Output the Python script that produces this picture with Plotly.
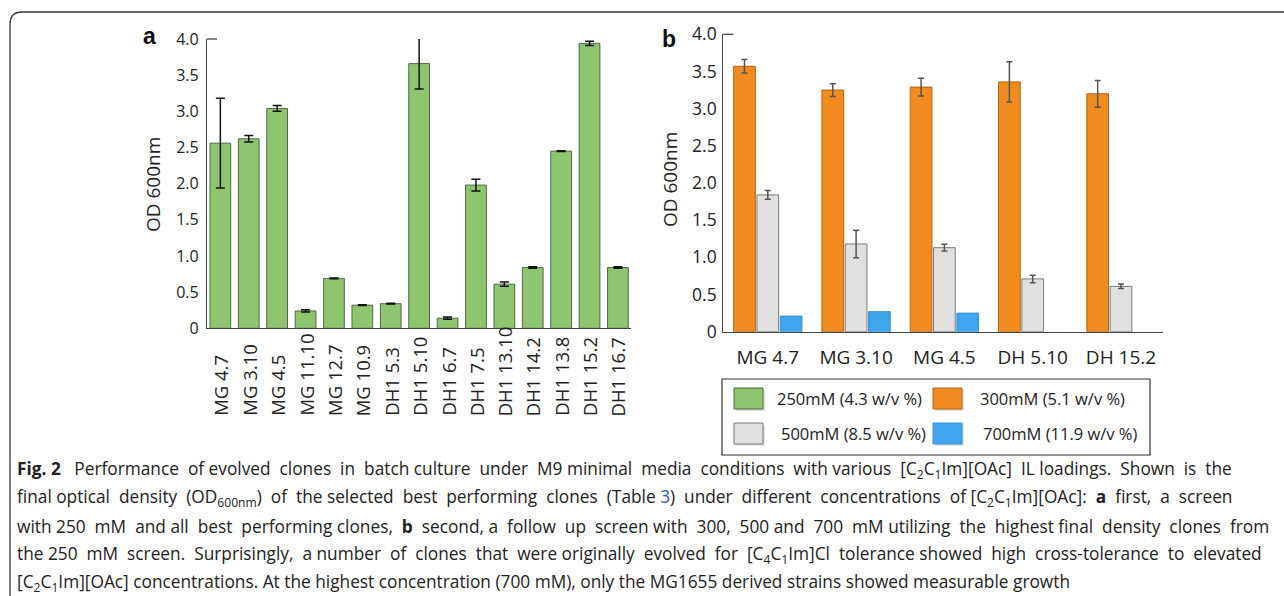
import re
import plotly.graph_objects as go

W, H = 1284, 596

# ---------------- data ----------------
clones_a = ["MG 4.7", "MG 3.10", "MG 4.5", "MG 11.10", "MG 12.7", "MG 10.9", "DH1 5.3",
            "DH1 5.10", "DH1 6.7", "DH1 7.5", "DH1 13.10", "DH1 14.2", "DH1 13.8",
            "DH1 15.2", "DH1 16.7"]
od_250 = [2.56, 2.62, 3.04, 0.24, 0.69, 0.32, 0.34, 3.66, 0.14, 1.98, 0.61, 0.84, 2.45, 3.94, 0.84]
err_250 = [0.62, 0.045, 0.04, 0.015, 0.005, 0.005, 0.005, 0.35, 0.015, 0.08, 0.03, 0.01, 0.005, 0.03, 0.01]

clones_b = ["MG 4.7", "MG 3.10", "MG 4.5", "DH 5.10", "DH 15.2"]
od_300 = [3.57, 3.25, 3.29, 3.36, 3.20]
err_300 = [0.09, 0.085, 0.12, 0.27, 0.18]
od_500 = [1.84, 1.18, 1.13, 0.71, 0.61]
err_500 = [0.06, 0.185, 0.045, 0.05, 0.03]
od_700 = [0.21, 0.27, 0.25, None, None]

yticks = [0, 0.5, 1.0, 1.5, 2.0, 2.5, 3.0, 3.5, 4.0]
ytick_text = ["0", "0.5", "1.0", "1.5", "2.0", "2.5", "3.0", "3.5", "4.0"]

legend_labels = ["250mM (4.3 w/v %)", "300mM (5.1 w/v %)", "500mM (8.5 w/v %)", "700mM (11.9 w/v %)"]

GREEN = "#8dc66f"
ORANGE = "#f28c1e"
GREY = "#e0e0e0"
BLUE = "#3fa5ee"

FONT = "Open Sans"
TXT = "#222222"


def px(x):
    return x / W


def py(y):
    return 1 - y / H


fig = go.Figure()

# ---------------- panel a ----------------
fig.add_trace(go.Bar(
    x=clones_a, y=od_250, width=0.73,
    marker=dict(color=GREEN, line=dict(color="#56664c", width=1)),
    error_y=dict(type="data", array=err_250, color="#111111", thickness=1.5, width=4.5),
    xaxis="x", yaxis="y", showlegend=False,
))

# ---------------- panel b ----------------
for vals, errs, col, lc in [(od_300, err_300, ORANGE, "#b0621a"),
                            (od_500, err_500, GREY, "#7a7a7a"),
                            (od_700, None, BLUE, "#3a8fd0")]:
    fig.add_trace(go.Bar(
        x=clones_b, y=vals,
        marker=dict(color=col, line=dict(color=lc, width=1)),
        error_y=(dict(type="data", array=errs, color="#555555", thickness=1.5, width=3)
                 if errs is not None else None),
        xaxis="x2", yaxis="y2", showlegend=False,
    ))

axis_common = dict(showgrid=False, zeroline=False, showline=True, linecolor="#444444",
                   linewidth=1.3, automargin=False)

fig.update_layout(
    width=W, height=H, margin=dict(l=0, r=0, t=0, b=0, pad=0, autoexpand=False),
    paper_bgcolor="white", plot_bgcolor="white",
    barmode="group", bargap=0.208, bargroupgap=0.07,
    font=dict(family=FONT, color=TXT),
    xaxis=dict(domain=[px(207), px(631)], range=[-0.47, 14.46], anchor="y",
               showticklabels=False, ticks="", **axis_common),
    yaxis=dict(domain=[py(328.3), py(39)], range=[0, 4.0], anchor="x",
               tickvals=yticks, ticktext=ytick_text, ticks="",
               tickfont=dict(size=16, family=FONT, color=TXT),
               ticklabelstandoff=4, **axis_common),
    xaxis2=dict(domain=[px(723.3), px(1163.3)], range=[-0.504, 4.479], anchor="y2",
                ticks="", tickfont=dict(size=19, family=FONT, color=TXT),
                ticklabelstandoff=8, **axis_common),
    yaxis2=dict(domain=[py(331.7), py(34.3)], range=[0, 4.0], anchor="x2",
                tickvals=yticks, ticktext=ytick_text, ticks="",
                tickfont=dict(size=17.5, family=FONT, color=TXT),
                ticklabelstandoff=2, **axis_common),
)

shapes = []
annotations = []

# axis top caps
shapes.append(dict(type="line", xref="paper", yref="paper", x0=px(207), x1=px(217),
                   y0=py(39), y1=py(39), line=dict(color="#444444", width=1.3)))
shapes.append(dict(type="line", xref="paper", yref="paper", x0=px(723.3), x1=px(733.3),
                   y0=py(34.3), y1=py(34.3), line=dict(color="#444444", width=1.3)))

# frame (rounded top-left)
path = (f"M {px(10)},{py(600)} L {px(10)},{py(24)} "
        f"Q {px(10)},{py(12)} {px(22)},{py(12)} L {px(1290)},{py(12)}")
shapes.append(dict(type="path", xref="paper", yref="paper", path=path,
                   line=dict(color="#333333", width=1.3)))

# panel a x labels (rotated, aligned at bottom)
for c in clones_a:
    annotations.append(dict(x=c, xref="x", y=py(418), yref="paper", text=c,
                            textangle=-90, showarrow=False, xanchor="center",
                            yanchor="bottom", font=dict(size=18.5, family=FONT, color=TXT)))

# axis titles
for xx, yy in [(153, 185), (670, 180)]:
    annotations.append(dict(x=px(xx), y=py(yy), xref="paper", yref="paper", text="OD 600nm",
                            textangle=-90, showarrow=False, xanchor="center", yanchor="middle",
                            font=dict(size=19, family=FONT, color=TXT)))

# panel letters
for lab, xx, yy in [("a", 149, 36), ("b", 669, 39)]:
    annotations.append(dict(x=px(xx), y=py(yy), xref="paper", yref="paper", text=f"<b>{lab}</b>",
                            showarrow=False, xanchor="center", yanchor="middle",
                            font=dict(size=23, family="Liberation Sans", color="#111111")))

# legend box
shapes.append(dict(type="rect", xref="paper", yref="paper", x0=px(722), x1=px(1150),
                   y0=py(455), y1=py(379), line=dict(color="#333333", width=1.2),
                   fillcolor="white"))
leg_items = [
    (legend_labels[0], GREEN, "#56664c", 734, 398, 775),
    (legend_labels[1], ORANGE, "#b0621a", 933, 398, 978),
    (legend_labels[2], GREY, "#7a7a7a", 734, 433, 779),
    (legend_labels[3], BLUE, "#3a8fd0", 933, 433, 981),
]
for lab, col, lc, sx, cy, tx in leg_items:
    shapes.append(dict(type="rect", xref="paper", yref="paper", x0=px(sx + 2), x1=px(sx + 31),
                       y0=py(cy + 13), y1=py(cy - 8), line=dict(width=0),
                       fillcolor="rgba(0,0,0,0.12)"))
    shapes.append(dict(type="rect", xref="paper", yref="paper", x0=px(sx), x1=px(sx + 29),
                       y0=py(cy + 11), y1=py(cy - 10), line=dict(color=lc, width=1),
                       fillcolor=col))
    annotations.append(dict(x=px(tx), y=py(cy), xref="paper", yref="paper", text=lab,
                            xanchor="left", yanchor="middle", showarrow=False,
                            font=dict(size=16.5, family=FONT, color=TXT)))

# caption (lines 1-4 justified with extra non-breaking spaces)
C21 = "[C<sub>2</sub>C<sub>1</sub>Im][OAc]"
caption_lines = [
    "<b>Fig. 2</b> Performance of evolved clones in batch culture under M9 minimal media conditions with various "
    + C21 + " IL loadings. Shown is the",
    "final optical density (OD<sub>600nm</sub>) of the selected best performing clones (Table "
    "<span style='color:#2a5db0'>3</span>) under different concentrations of " + C21
    + ": <b>a</b> first, a screen",
    "with 250 mM and all best performing clones, <b>b</b> second, a follow up screen with 300, 500 and 700 mM "
    "utilizing the highest final density clones from",
    "the 250 mM screen. Surprisingly, a number of clones that were originally evolved for "
    "[C<sub>4</sub>C<sub>1</sub>Im]Cl tolerance showed high cross-tolerance to elevated",
    C21 + " concentrations. At the highest concentration (700 mM), only the MG1655 derived strains "
    "showed measurable growth",
]
extra_spaces = [15, 16, 18, 16, 0]


def justify(line, extra):
    words = re.split(r" (?![^<]*>)", line)
    gaps = len(words) - 1
    out = words[0]
    for i in range(1, len(words)):
        n_here = ((i * extra) // gaps) - (((i - 1) * extra) // gaps) if gaps else 0
        out += " " + "\u00a0" * n_here + words[i]
    return out


for i, line in enumerate(caption_lines):
    if i == 0:
        line = line.replace("</b> ", "</b>\u00a0 ", 1)
    annotations.append(dict(x=px(15), y=py(470 + 28.3 * i), xref="paper", yref="paper",
                            text=justify(line, extra_spaces[i]), xanchor="left", yanchor="middle",
                            showarrow=False, font=dict(size=17.3, family=FONT, color=TXT)))

fig.update_layout(shapes=shapes, annotations=annotations)

fig.write_html("out.html", config={"displayModeBar": False},
               post_script="document.body.style.margin='0';")
